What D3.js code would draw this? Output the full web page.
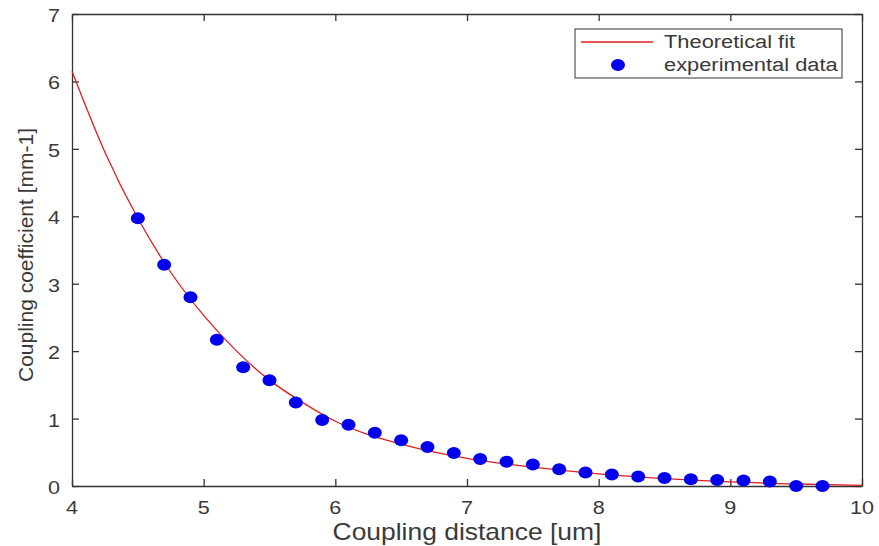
<!DOCTYPE html>
<html>
<head>
<meta charset="utf-8">
<script src="https://cdn.jsdelivr.net/npm/d3@7"></script>
<style>
  body { margin: 0; background: #fff; }
  svg text { font-family: "Liberation Sans", Arial, sans-serif; fill: #3a3a3a; }
</style>
</head>
<body>
<svg id="chart"></svg>
<script>
var width = 879;
var height = 546;
var margin = {top: 14, right: 17, bottom: 60, left: 72};

// experimental points
var expX = [4.5, 4.7, 4.9, 5.1, 5.3, 5.5, 5.7, 5.9, 6.1, 6.3, 6.5, 6.7, 6.9, 7.1,
            7.3, 7.5, 7.7, 7.9, 8.1, 8.3, 8.5, 8.7, 8.9, 9.1, 9.3, 9.5, 9.7];
var expY = [3.97, 3.28, 2.80, 2.17, 1.76, 1.57, 1.24, 0.98, 0.91, 0.79, 0.68, 0.58, 0.49, 0.40,
            0.36, 0.32, 0.25, 0.20, 0.17, 0.14, 0.12, 0.10, 0.09, 0.08, 0.065, 0.0, 0.0];

// theoretical fit
var fitX = [4, 4.25, 4.5, 4.75, 5, 5.25, 5.5, 5.75, 6, 6.5, 7, 7.5, 8, 8.5, 9, 9.5, 10];
var fitY = [6.15, 4.95, 3.97, 3.17, 2.53, 2.0, 1.57, 1.24, 0.96, 0.62, 0.41, 0.28, 0.18, 0.11, 0.06, 0.03, 0.01];

var xTicks = [4, 5, 6, 7, 8, 9, 10];
var yTicks = [0, 1, 2, 3, 4, 5, 6, 7];

var xLabel = "Coupling distance [um]";
var yLabel = "Coupling coefficient [mm-1]";
var legendLabels = ["Theoretical fit", "experimental data"];

var stretch = 1.15; // the reference text is a little wide
var lineColor = "#e01e1e";
var dotColor = "#0000ee";
var axisColor = "#333";

var svg = d3.select("#chart")
    .attr("width", width)
    .attr("height", height);

var x = d3.scaleLinear()
    .domain([4, 10])
    .range([margin.left, width - margin.right]);

var y = d3.scaleLinear()
    .domain([0, 7])
    .range([height - margin.bottom, margin.top]);

var tickLen = 7;

// axes with inward ticks on all four sides
svg.append("g")
    .attr("transform", "translate(0," + y(0) + ")")
    .call(d3.axisBottom(x).tickValues(xTicks).tickSizeInner(-tickLen).tickSizeOuter(0).tickFormat(""))
svg.append("g")
    .attr("transform", "translate(0," + y(7) + ")")
    .call(d3.axisTop(x).tickValues(xTicks).tickSizeInner(-tickLen).tickSizeOuter(0).tickFormat(""))
svg.append("g")
    .attr("transform", "translate(" + x(4) + ",0)")
    .call(d3.axisLeft(y).tickValues(yTicks).tickSizeInner(-tickLen).tickSizeOuter(0).tickFormat(""))
svg.append("g")
    .attr("transform", "translate(" + x(10) + ",0)")
    .call(d3.axisRight(y).tickValues(yTicks).tickSizeInner(-tickLen).tickSizeOuter(0).tickFormat(""))

svg.selectAll(".domain, .tick line")
    .attr("stroke", axisColor)
    .attr("stroke-width", 1.3);

// tick labels
svg.selectAll(".xlab")
  .data(xTicks)
  .enter()
  .append("text")
    .attr("transform", function(d) {
      return "translate(" + x(d) + "," + (y(0) + 28) + ") scale(1.2,1)";
    })
    .attr("text-anchor", "middle")
    .attr("font-size", "18px")
    .text(function(d) { return d; });

svg.selectAll(".ylab")
  .data(yTicks)
  .enter()
  .append("text")
    .attr("transform", function(d) {
      return "translate(" + (x(4) - 12) + "," + (y(d) + 8) + ") scale(1.2,1)";
    })
    .attr("text-anchor", "end")
    .attr("font-size", "18px")
    .text(function(d) { return d; });

// axis titles
svg.append("text")
    .attr("transform", "translate(" + ((x(4) + x(10)) / 2) + "," + (height - 6) + ") scale(" + stretch + ",1)")
    .attr("text-anchor", "middle")
    .attr("font-size", "23px")
    .text(xLabel);

svg.append("text")
    .attr("transform", "translate(33," + ((y(0) + y(7)) / 2 + 5) + ") rotate(-90)")
    .attr("text-anchor", "middle")
    .attr("font-size", "21px")
    .text(yLabel);

// fit curve
var fitData = fitX.map(function(d, i) { return {x: d, y: fitY[i]}; });
var line = d3.line()
    .x(function(d) { return x(d.x); })
    .y(function(d) { return y(d.y); })
    .curve(d3.curveMonotoneX);

svg.append("path")
    .datum(fitData)
    .attr("fill", "none")
    .attr("stroke", lineColor)
    .attr("stroke-width", 1.3)
    .attr("d", line);

// experimental points
var expData = expX.map(function(d, i) { return {x: d, y: expY[i]}; });
svg.selectAll(".dot")
  .data(expData)
  .enter()
  .append("ellipse")
    .attr("cx", function(d) { return x(d.x); })
    .attr("cy", function(d) { return y(d.y); })
    .attr("rx", 7)
    .attr("ry", 6)
    .attr("fill", dotColor);

// legend
var lg = svg.append("g").attr("transform", "translate(575,29)");
lg.append("rect")
    .attr("width", 267)
    .attr("height", 49)
    .attr("fill", "#fff")
    .attr("stroke", axisColor)
    .attr("stroke-width", 1);
lg.append("line")
    .attr("x1", 6).attr("x2", 78)
    .attr("y1", 13).attr("y2", 13)
    .attr("stroke", lineColor)
    .attr("stroke-width", 1.3);
lg.append("ellipse")
    .attr("cx", 43).attr("cy", 36)
    .attr("rx", 7).attr("ry", 6)
    .attr("fill", dotColor);
lg.selectAll(".lt")
  .data(legendLabels)
  .enter()
  .append("text")
    .attr("transform", function(d, i) {
      return "translate(89," + (19 + i * 23) + ") scale(" + stretch + ",1)";
    })
    .attr("font-size", "19px")
    .text(function(d) { return d; });
</script>
</body>
</html>
